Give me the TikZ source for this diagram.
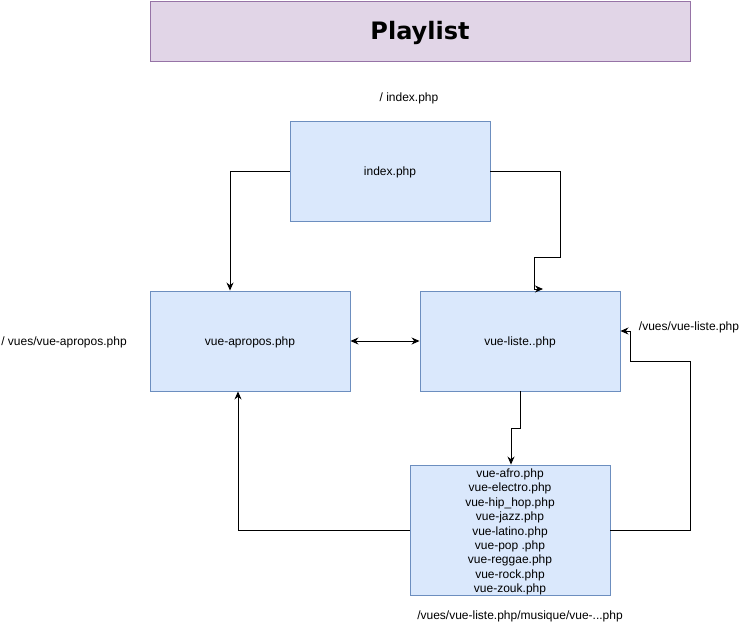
\documentclass[tikz,border=0pt]{standalone}
\usepackage{fontspec}
\setmainfont{Liberation Sans}
\newfontfamily\titlefont{DejaVu Sans}
\usetikzlibrary{arrows.meta}
\definecolor{boxfill}{HTML}{DAE8FC}
\definecolor{boxdraw}{HTML}{6C8EBF}
\definecolor{titlefill}{HTML}{E1D5E7}
\definecolor{titledraw}{HTML}{9673A6}
\tikzset{
  pagebox/.style={draw=boxdraw, fill=boxfill, line width=0.9pt, minimum width=200pt, minimum height=100pt, inner sep=0pt, font=\fontsize{12}{14}\selectfont},
  lbl/.style={inner sep=0pt, font=\fontsize{12}{14}\selectfont},
  boxtext/.style={inner sep=0pt, font=\fontsize{12}{14}\selectfont, anchor=center},
  conn/.style={draw=black, line width=1pt, -{Stealth[length=8pt,width=7pt]}},
}
\begin{document}
\begin{tikzpicture}[x=1pt,y=-1pt]
\useasboundingbox (0,0) rectangle (751,632);
\node[draw=titledraw, fill=titlefill, line width=0.9pt, minimum width=540pt, minimum height=60pt, inner sep=0pt] (title) at (420,31) {};
\node[inner sep=0pt, font=\titlefont\bfseries\fontsize{24}{28}\selectfont] (titletext) at (420,33) {Playlist};
\node[lbl] (lindex) at (409,98) {/ index.php};
\node[pagebox] (index) at (390,171) {};
\node[boxtext] (indext) at (390,172.5) {index.php};
\node[pagebox] (apropos) at (250,341) {};
\node[boxtext] (aproposat) at (250,342.5) {vue-apropos.php};
\node[pagebox] (liste) at (520,341) {};
\node[boxtext] (listet) at (520,342.5) {vue-liste..php};
\node[pagebox, minimum height=130pt] (genres) at (510,530) {};
\node[boxtext, align=center, font=\fontsize{12}{14.4}\selectfont] (genrest) at (510,532) {vue-afro.php\\vue-electro.php\\vue-hip\_hop.php\\vue-jazz.php\\vue-latino.php\\vue-pop .php\\vue-reggae.php\\vue-rock.php\\vue-zouk.php};
\node[lbl] (lapropos) at (64,342.5) {/ vues/vue-apropos.php};
\node[lbl] (lliste) at (689,327.5) {/vues/vue-liste.php};
\node[lbl] (lgenres) at (520,616.5) {/vues/vue-liste.php/musique/vue-...php};

\coordinate (a1) at (230,171);
\draw[conn] (index.west) -- (a1) -- (apropos.north -| a1);
\coordinate (b1) at (560,171);
\coordinate (b2) at (560,257);
\coordinate (b3) at (534,257);
\coordinate (b4) at (534,289);
\coordinate (b5) at (543,289);
\draw[conn] (index.east) -- (b1) -- (b2) -- (b3) -- (b4) -- (b5);
\draw[draw=black, line width=1pt, {Stealth[length=8pt,width=7pt]}-{Stealth[length=8pt,width=7pt]}] (apropos.east) -- (liste.west);
\coordinate (c1) at (520,428);
\coordinate (c2) at (511,428);
\draw[conn] (liste.south) -- (c1) -- (c2) -- (genres.north -| c2);
\coordinate (d1) at (238,530);
\draw[conn] (genres.west) -- (d1) -- (apropos.south -| d1);
\coordinate (e1) at (690,530);
\coordinate (e2) at (690,361);
\coordinate (e3) at (630,361);
\coordinate (e4) at (630,331);
\draw[conn] (genres.east) -- (e1) -- (e2) -- (e3) -- (e4) -- (liste.east |- e4);
\end{tikzpicture}
\end{document}
